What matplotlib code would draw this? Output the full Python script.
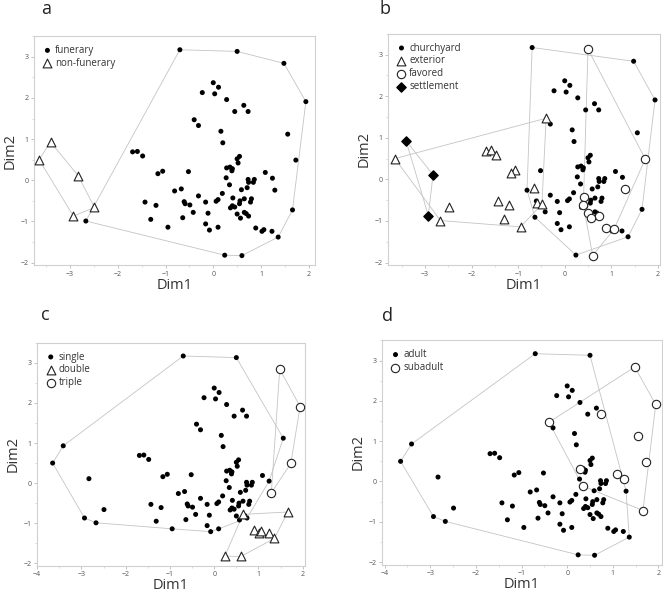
import matplotlib
matplotlib.use("Agg")
import matplotlib.pyplot as plt
from matplotlib.ticker import MultipleLocator
import numpy as np

plt.rcParams["font.family"] = ["Open Sans", "DejaVu Sans"]

# coordinates of the 90 burials (same points in every panel)
dim1 = [-3.65, -3.41, -2.83, -2.49, -2.93, -0.70, 0.50, 1.48, 1.94, 0.00,
        0.11, -0.23, 0.03, 0.28, 0.64, 0.45, 0.73, -0.40, -0.31, 0.16,
        1.56, 0.20, -1.69, -1.59, -1.48, 0.55, 0.50, 0.52, 1.73, 0.28,
        0.35, 0.40, 0.39, -1.06, -1.16, -0.52, 1.09, 0.27, 0.73, 0.86,
        0.74, 0.84, 1.24, 0.34, 0.71, 0.59, 1.29, -0.81, -0.67, -0.31,
        0.19, 0.41, 0.80, 0.65, -0.16, 0.10, 0.06, 0.56, 0.55, 0.78,
        -0.61, -0.59, -0.49, -1.43, -1.20, 0.40, 0.45, 0.36, -0.42, -0.11,
        0.50, 0.65, 0.69, 0.74, 0.57, -0.64, -1.31, -2.67, -0.16, -0.95,
        -0.08, 0.10, 0.89, 1.02, 1.06, 1.23, 1.66, 1.36, 0.24, 0.60]
dim2 = [0.50, 0.93, 0.11, -0.66, -0.87, 3.17, 3.13, 2.84, 1.91, 2.37,
        2.26, 2.13, 2.10, 1.96, 1.82, 1.67, 1.67, 1.47, 1.33, 1.19,
        1.12, 0.91, 0.69, 0.70, 0.59, 0.58, 0.52, 0.42, 0.49, 0.30,
        0.32, 0.28, 0.23, 0.22, 0.16, 0.21, 0.19, 0.06, 0.02, 0.02,
        -0.05, -0.05, 0.05, -0.11, -0.18, -0.23, -0.24, -0.26, -0.21, -0.38,
        -0.32, -0.43, -0.45, -0.45, -0.53, -0.47, -0.51, -0.50, -0.57, -0.53,
        -0.52, -0.57, -0.60, -0.53, -0.61, -0.62, -0.65, -0.67, -0.78, -0.80,
        -0.82, -0.78, -0.81, -0.87, -0.92, -0.91, -0.95, -0.99, -1.06, -1.14,
        -1.21, -1.14, -1.16, -1.24, -1.20, -1.24, -0.72, -1.38, -1.82, -1.83]

# group membership (indices into dim1/dim2)
non_funerary = [0, 1, 2, 3, 4]
settlement = [1, 2, 4]
exterior = [0, 3, 17, 22, 23, 24, 33, 34, 48, 61, 62, 63, 64, 76, 77, 79]
favored = [6, 28, 46, 51, 65, 70, 73, 74, 82, 84, 89]
double = [71, 82, 83, 84, 85, 86, 87, 88, 89]
triple = [7, 8, 28, 46]
subadult = [7, 8, 16, 17, 20, 28, 29, 36, 42, 43, 86]

x = np.array(dim1)
y = np.array(dim2)
n = len(x)

dot = dict(marker="o", s=13, c="black", edgecolors="none")
tri = dict(marker="^", s=40, facecolors="white", edgecolors="#222222", linewidths=0.8)
circ = dict(marker="o", s=36, facecolors="white", edgecolors="#222222", linewidths=0.8)
diam = dict(marker="D", s=22, c="black", edgecolors="black")


def hull(idx):
    pts = sorted(set((x[i], y[i]) for i in idx))
    if len(pts) < 3:
        return pts

    def cross(o, a, b):
        return (a[0] - o[0]) * (b[1] - o[1]) - (a[1] - o[1]) * (b[0] - o[0])

    lower, upper = [], []
    for p in pts:
        while len(lower) >= 2 and cross(lower[-2], lower[-1], p) <= 0:
            lower.pop()
        lower.append(p)
    for p in reversed(pts):
        while len(upper) >= 2 and cross(upper[-2], upper[-1], p) <= 0:
            upper.pop()
        upper.append(p)
    return lower[:-1] + upper[:-1]


def rest(*groups):
    used = set(i for g in groups for i in g)
    return [i for i in range(n) if i not in used]


def style(ax, xlim):
    ax.set_xlim(*xlim)
    ax.set_ylim(-2.06, 3.5)
    ax.xaxis.set_major_locator(MultipleLocator(1))
    ax.yaxis.set_major_locator(MultipleLocator(1))
    ax.xaxis.set_minor_locator(MultipleLocator(0.5))
    ax.yaxis.set_minor_locator(MultipleLocator(0.5))
    ax.tick_params(which="major", labelsize=5, length=2.5, width=0.5,
                   color="#aaaaaa", labelcolor="#555555", pad=1.5)
    ax.tick_params(which="minor", length=1.5, width=0.5, color="#cccccc")
    for sp in ax.spines.values():
        sp.set_color("#d0d0d0")
        sp.set_linewidth(0.8)
    ax.set_xlabel("Dim1", fontsize=10.5, color="#333333", labelpad=0)
    ax.set_ylabel("Dim2", fontsize=10.5, color="#333333", labelpad=2)


def panel(ax, groups):
    for idx, kw, label in groups:
        h = hull(idx)
        if len(h) >= 3:
            hx = [p[0] for p in h] + [h[0][0]]
            hy = [p[1] for p in h] + [h[0][1]]
            ax.plot(hx, hy, color="#c4c4c4", lw=0.6, zorder=1)
    for idx, kw, label in groups:
        ax.scatter(x[idx], y[idx], label=label, zorder=3, **kw)
    ax.legend(loc="upper left", frameon=False, fontsize=7, handletextpad=0.3,
              borderaxespad=0.5, labelspacing=0.2, handlelength=1.0,
              labelcolor="#333333")


fig = plt.figure(figsize=(6.63, 5.93), dpi=100)

ax_a = fig.add_axes([0.051, 0.553, 0.424, 0.386])
panel(ax_a, [(rest(non_funerary), dot, "funerary"),
             (non_funerary, tri, "non-funerary")])
style(ax_a, (-3.76, 2.13))

ax_b = fig.add_axes([0.585, 0.553, 0.410, 0.390])
panel(ax_b, [(rest(exterior, favored, settlement), dot, "churchyard"),
             (exterior, tri, "exterior"),
             (favored, circ, "favored"),
             (settlement, diam, "settlement")])
style(ax_b, (-3.8, 2.04))

ax_c = fig.add_axes([0.056, 0.046, 0.404, 0.376])
panel(ax_c, [(rest(double, triple), dot, "single"),
             (double, tri, "double"),
             (triple, circ, "triple")])
style(ax_c, (-4.0, 2.05))

ax_d = fig.add_axes([0.576, 0.048, 0.422, 0.378])
panel(ax_d, [(rest(subadult), dot, "adult"),
             (subadult, circ, "subadult")])
style(ax_d, (-4.06, 2.07))

for lx, ly, letter in [(0.062, 0.976, "a"), (0.573, 0.976, "b"),
                       (0.062, 0.460, "c"), (0.576, 0.459, "d")]:
    fig.text(lx, ly, letter, fontsize=13, color="#222222", va="baseline")

fig.savefig("out.png", dpi=100)
